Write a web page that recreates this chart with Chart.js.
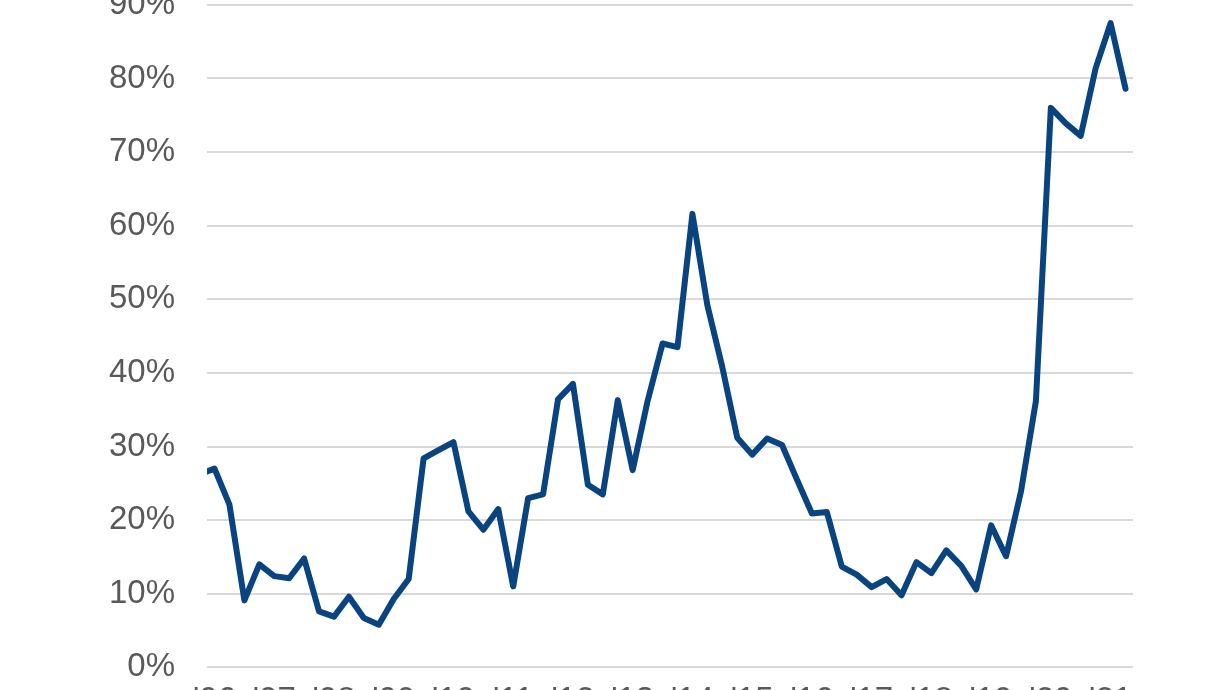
<!DOCTYPE html>
<html>
<head>
  <title>Chart</title>
  <script src="https://cdn.jsdelivr.net/npm/chart.js"></script>
  <style>
    html, body { margin: 0; padding: 0; background: #fff; }
    #wrap { position: relative; width: 1226px; height: 690px; overflow: hidden; }
    #chart { position: absolute; left: 0; top: -47px; }
  </style>
</head>
<body>
  <div id="wrap">
    <canvas id="chart" width="1226" height="782"></canvas>
  </div>
  <script>
    // quarterly series, first point is Q4 '05 (only its segment edge is visible)
    const years = ['05', '06', '07', '08', '09', '10', '11', '12', '13', '14', '15', '16', '17', '18', '19', '20', '21'];
    const quarters = ['Q1', 'Q2', 'Q3', 'Q4'];
    const values = [
      26.2,
      27.0, 22.1, 9.1, 14.0,
      12.4, 12.1, 14.8, 7.6,
      6.9, 9.6, 6.7, 5.8,
      9.3, 12.0, 28.4, 29.5,
      30.6, 21.2, 18.7, 21.5,
      11.0, 23.0, 23.5, 36.4,
      38.5, 24.8, 23.5, 36.3,
      26.8, 36.2, 44.0, 43.5,
      61.6, 49.2, 40.8, 31.2,
      28.9, 31.1, 30.2, 25.5,
      20.9, 21.1, 13.7, 12.6,
      10.9, 12.0, 9.8, 14.3,
      12.8, 15.9, 13.8, 10.6,
      19.3, 15.1, 23.9, 36.2,
      76.0, 73.9, 72.2, 81.4,
      87.5, 78.6
    ];

    // build the category list from years and quarters: Q4 '05 .. Q2 '21
    const categories = [];
    years.forEach(y => quarters.forEach(q => categories.push(q + " '" + y)));
    const labels = categories.slice(3, 3 + values.length);

    const ctx = document.getElementById('chart').getContext('2d');
    const font = { family: "'Liberation Sans', Arial, sans-serif", size: 33 };

    new Chart(ctx, {
      type: 'line',
      data: {
        labels: labels,
        datasets: [{
          data: values,
          borderColor: '#0a4480',
          borderWidth: 6,
          borderJoinStyle: 'round',
          borderCapStyle: 'round',
          pointRadius: 0,
          tension: 0,
          fill: false
        }]
      },
      options: {
        responsive: false,
        animation: false,
        devicePixelRatio: 1,
        layout: { padding: { left: 77, right: 93, top: 37, bottom: 0 } },
        plugins: { legend: { display: false }, tooltip: { enabled: false } },
        scales: {
          x: {
            min: 1,
            offset: true,
            grid: { display: false, drawTicks: false },
            border: { display: false },
            ticks: {
              autoSkip: false,
              maxRotation: 0,
              padding: 14,
              color: '#595959',
              font: font,
              callback: (v, i) => {
                const c = labels[v];
                return c && c.startsWith('Q1') ? c.slice(3) : '';
              }
            }
          },
          y: {
            min: 0,
            max: 90,
            grid: { color: '#d9d9d9', lineWidth: 2, drawTicks: false },
            border: { display: false },
            ticks: {
              stepSize: 10,
              padding: 32,
              color: '#595959',
              font: font,
              callback: v => v + '%'
            }
          }
        }
      }
    });
  </script>
</body>
</html>
